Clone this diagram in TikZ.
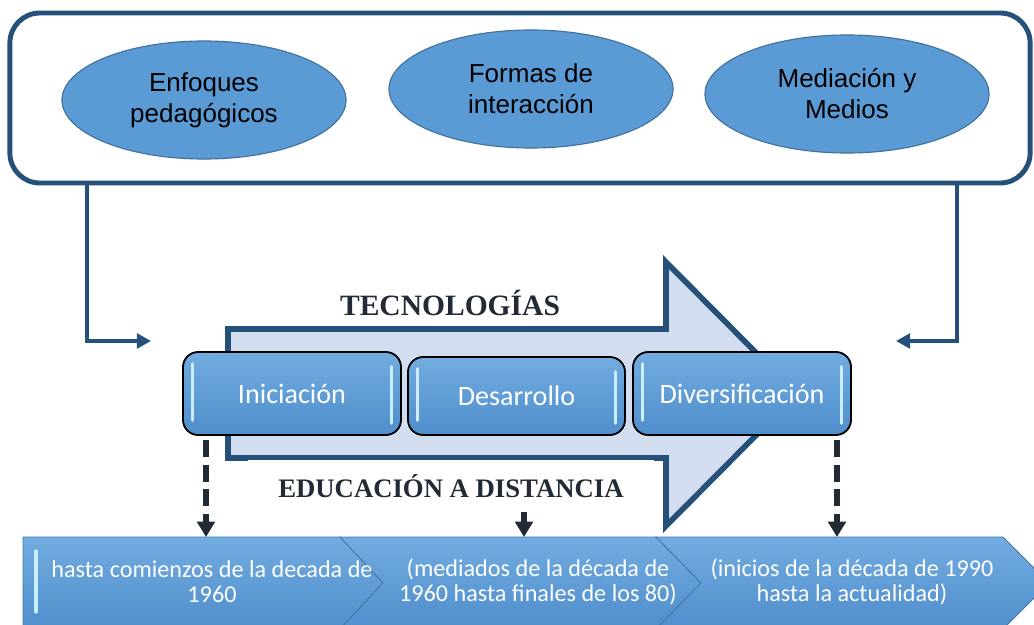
\documentclass[tikz,border=0pt]{standalone}
\usepackage{fontspec}
\newfontfamily\arialf{Liberation Sans}
\newfontfamily\timesf{Liberation Serif}
\newfontfamily\calf{Carlito}
\usetikzlibrary{shapes.geometric,arrows.meta}
\definecolor{navy}{HTML}{24507A}
\definecolor{ellfill}{HTML}{5B9BD5}
\definecolor{elldraw}{HTML}{41719C}
\definecolor{arrfill}{HTML}{D2DEF0}
\definecolor{titletxt}{HTML}{222A36}
\definecolor{boxtop}{HTML}{72ACE0}
\definecolor{boxbot}{HTML}{4F8ECC}
\definecolor{gleamc}{HTML}{C8EEFF}
\definecolor{bandline}{HTML}{4577A8}
\tikzset{
  frame/.style={draw=navy,line width=3.5pt,rounded corners=0.75cm,minimum width=25.5cm,minimum height=4.25cm},
  topic/.style={ellipse,draw=elldraw,fill=ellfill,line width=0.8pt,minimum width=7.1cm,minimum height=2.95cm,align=center,inner sep=0pt,font=\arialf\fontsize{18.5}{22}\selectfont},
  stage/.style={draw=black,line width=1.3pt,rounded corners=0.38cm,top color=boxtop,bottom color=boxbot,text=white,minimum width=5.45cm,minimum height=2.075cm,font=\calf\fontsize{20}{24}\selectfont},
  gleam/.style={gleamc,line width=2.2pt,line cap=round},
  chev/.style={draw=bandline,line width=0.6pt,top color=boxtop,bottom color=boxbot},
  period/.style={text=white,align=center,font=\calf\fontsize{17.2}{18}\selectfont},
  banner/.style={text=titletxt,font=\timesf\bfseries\fontsize{21}{24}\selectfont},
  feed/.style={navy,line width=2.2pt,-{Triangle[width=10.5pt,length=10pt]}},
  drop/.style={titletxt,line width=4.2pt,dash pattern=on 12pt off 5.5pt,shorten <=3pt,-{Triangle[width=12.5pt,length=11pt]}},
  nudge/.style={titletxt,line width=4.2pt,-{Triangle[width=12.5pt,length=11pt]}}
}
\begin{document}
\begin{tikzpicture}[x=0.025cm,y=-0.025cm]
\useasboundingbox (0,0) rectangle (1034,625);

\node [frame] (frame) at (520,98) {};
\node [topic] (enf) at (204,100) {Enfoques\\pedagógicos};
\node [topic] (for) at (531,89) {Formas de\\interacción};
\node [topic] (med) at (847,94) {Mediación y\\Medios};

\coordinate (lx) at (87,0);
\coordinate (ltip) at (151,341);
\coordinate (rx) at (957,0);
\coordinate (rtip) at (896,341);
\draw [feed] (frame.south -| lx) |- (ltip);
\draw [feed] (frame.south -| rx) |- (rtip);

\draw [navy,fill=arrfill,line width=4pt] (228,329) -- (666,329) -- (666,262) -- (797,394)
  -- (666,526) -- (666,458) -- (228,458) -- cycle;
\node [banner] (tec) at (450,303) {TECNOLOGÍAS};
\node [banner,fill=white,minimum width=10.15cm,minimum height=1.3cm,font=\timesf\bfseries\fontsize{19}{22}\selectfont] (eda) at (451,486) {EDUCACIÓN A DISTANCIA};

\node [stage] (ini) at (292,393.5) {Iniciación};
\node [stage,minimum width=5.425cm,minimum height=1.95cm] (des) at (516.5,396) {Desarrollo};
\node [stage] (div) at (742,393.5) {Diversificación};
\foreach \b in {ini,des,div} {
  \draw [gleam] ([xshift=7.5pt,yshift=-9pt]\b.north west) -- ([xshift=7.5pt,yshift=11pt]\b.south west);
  \draw [gleam] ([xshift=-7.5pt,yshift=-11pt]\b.north east) -- ([xshift=-7.5pt,yshift=9pt]\b.south east);
}

\draw [chev] (23,537) -- (340,537) -- (383,583) -- (340,629) -- (23,629) -- cycle;
\draw [chev] (340,537) -- (656,537) -- (701,583) -- (656,629) -- (340,629) -- (383,583) -- cycle;
\draw [chev] (656,537) -- (1003,537) -- (1049,583) -- (1003,629) -- (656,629) -- (701,583) -- cycle;
\draw [gleam] (36,551) -- (36,612);
\node [period] (p1) at (212,582) {hasta comienzos de la decada de\\1960};
\node [period] (p2) at (538,582) {(mediados de la década de\\1960 hasta finales de los 80)};
\node [period] (p3) at (852,582) {(inicios de la década de 1990\\hasta la actualidad)};

\coordinate (a1) at (206,537);
\coordinate (a2) at (524,537);
\coordinate (a3) at (837,537);
\draw [drop] (ini.south -| a1) -- (a1);
\draw [nudge] (eda.south -| a2) -- (a2);
\draw [drop] (div.south -| a3) -- (a3);
\end{tikzpicture}
\end{document}
